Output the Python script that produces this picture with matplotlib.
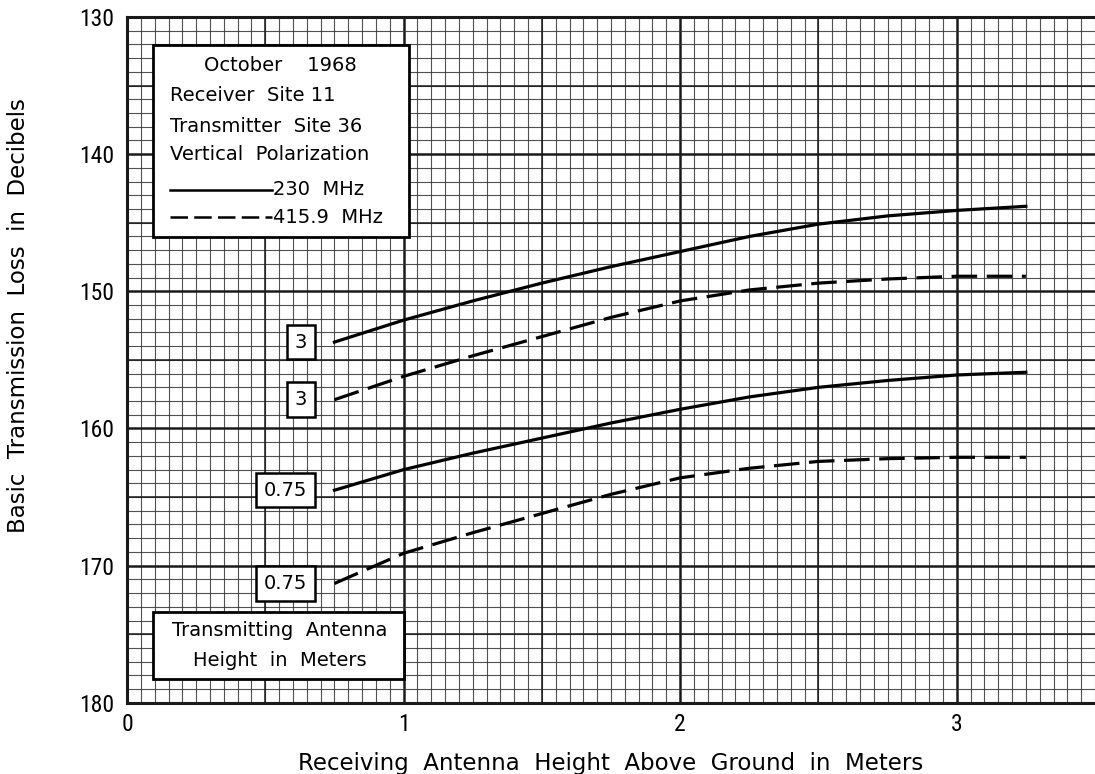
import numpy as np
import matplotlib
matplotlib.use("Agg")
import matplotlib.pyplot as plt
from matplotlib.patches import Rectangle

# receiving antenna height (m) where the curves were read
heights = [0.75, 1.0, 1.25, 1.5, 1.75, 2.0, 2.25, 2.5, 2.75, 3.0, 3.25]

# basic transmission loss (dB), transmitting antenna 3 m
loss_230_3 = [153.7, 152.1, 150.7, 149.4, 148.2, 147.1, 146.0, 145.1, 144.5, 144.1, 143.8]
loss_416_3 = [157.9, 156.2, 154.7, 153.3, 151.9, 150.7, 149.9, 149.4, 149.1, 148.9, 148.9]
# transmitting antenna 0.75 m
loss_230_075 = [164.5, 163.0, 161.8, 160.7, 159.6, 158.6, 157.7, 157.0, 156.5, 156.1, 155.9]
loss_416_075 = [171.3, 169.1, 167.6, 166.2, 164.8, 163.6, 162.9, 162.4, 162.2, 162.1, 162.1]

curve_labels = ["3", "3", "0.75", "0.75"]
x_ticks = [0, 1, 2, 3]
y_ticks = [130, 140, 150, 160, 170, 180]

ink = "#1a1a1a"
plt.rcParams["font.family"] = ["DejaVu Sans"]
narrow = ["Liberation Sans Narrow", "Roboto Condensed", "DejaVu Sans"]

fig = plt.figure(figsize=(10.95, 7.74), dpi=100)
ax = fig.add_axes([0.116, 0.092, 0.884, 0.886])

ax.set_xlim(0, 3.5)
ax.set_ylim(180, 130)

# graph-paper grid
ax.set_xticks(x_ticks)
ax.set_yticks(y_ticks)
ax.set_xticks(np.arange(0, 3.501, 0.05), minor=True)
ax.set_yticks(np.arange(130, 180.5, 1), minor=True)
ax.grid(which="minor", color="#333333", lw=0.8, alpha=0.85)
ax.grid(which="major", color=ink, lw=1.8)
for v in [0.5, 1.5, 2.5]:
    ax.axvline(v, color=ink, lw=1.1, zorder=1)
for v in [135, 145, 155, 165, 175]:
    ax.axhline(v, color=ink, lw=1.1, zorder=1)
ax.set_axisbelow(True)

ax.tick_params(which="both", length=0, labelsize=17, labelfontfamily=narrow)
ax.tick_params(axis="y", pad=9)
ax.tick_params(axis="x", pad=7)
for s in ["left", "bottom", "top"]:
    ax.spines[s].set_linewidth(2.2)
    ax.spines[s].set_color(ink)
ax.spines["right"].set_visible(False)

ax.set_xlabel("Receiving  Antenna  Height  Above  Ground  in  Meters", fontsize=16.5, labelpad=12)
ax.set_ylabel("Basic  Transmission  Loss  in  Decibels", fontsize=16.5)
ax.yaxis.set_label_coords(-0.1, 0.565)

# curves
dash = (0, (8, 3))
series = [(loss_230_3, "-"), (loss_416_3, dash), (loss_230_075, "-"), (loss_416_075, dash)]
for (vals, ls), lab in zip(series, curve_labels):
    ax.plot(heights, vals, color="black", lw=2.3, linestyle=ls, zorder=4)
    ax.text(heights[0] - 0.1, vals[0], lab, ha="right", va="center", fontsize=14,
            zorder=6, bbox=dict(boxstyle="square,pad=0.4", fc="white", ec="black", lw=1.8))

# legend box
fs = 14
ax.add_patch(Rectangle((0.027, 0.679), 0.264, 0.28, transform=ax.transAxes,
                       fc="white", ec="black", lw=2, zorder=5))
ax.text(0.158, 0.930, "October    1968", transform=ax.transAxes, ha="center", va="center",
        fontsize=fs, zorder=6)
for y, t in [(0.885, "Receiver  Site 11"), (0.841, "Transmitter  Site 36"),
             (0.799, "Vertical  Polarization")]:
    ax.text(0.044, y, t, transform=ax.transAxes, ha="left", va="center", fontsize=fs, zorder=6)
ax.plot([0.044, 0.150], [0.748, 0.748], transform=ax.transAxes, color="black", lw=1.8, zorder=6)
ax.plot([0.044, 0.150], [0.708, 0.708], transform=ax.transAxes, color="black", lw=1.8,
        linestyle=(0, (7, 2.5)), zorder=6)
ax.text(0.151, 0.748, "230  MHz", transform=ax.transAxes, ha="left", va="center", fontsize=fs, zorder=6)
ax.text(0.151, 0.708, "415.9  MHz", transform=ax.transAxes, ha="left", va="center", fontsize=fs, zorder=6)

# bottom note box
ax.add_patch(Rectangle((0.027, 0.034), 0.259, 0.099, transform=ax.transAxes,
                       fc="white", ec="black", lw=2, zorder=5))
ax.text(0.158, 0.106, "Transmitting  Antenna", transform=ax.transAxes, ha="center", va="center",
        fontsize=fs, zorder=6)
ax.text(0.158, 0.062, "Height  in  Meters", transform=ax.transAxes, ha="center", va="center",
        fontsize=fs, zorder=6)

fig.savefig("out.png", dpi=100, facecolor="white")
